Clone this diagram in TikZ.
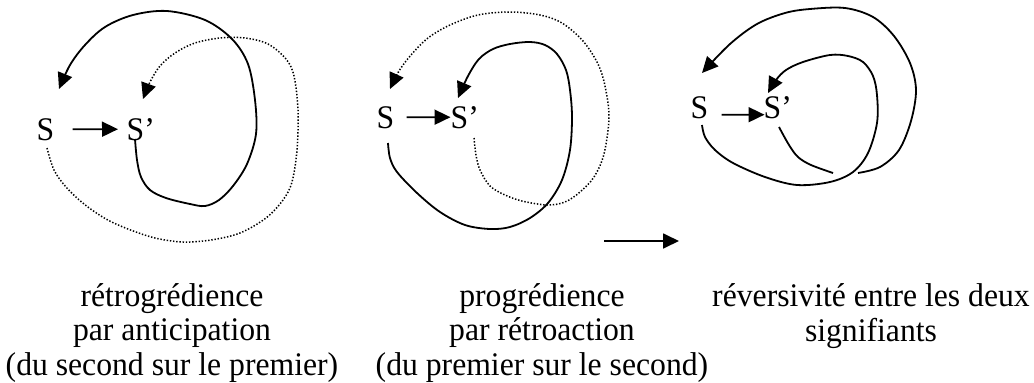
\documentclass[tikz,border=0pt]{standalone}
\usepackage{fontspec}
\setmainfont{Liberation Serif}[FakeStretch=0.96]
\usetikzlibrary{arrows.meta}
\begin{document}
\begin{tikzpicture}[x=1pt,y=-1pt,
  lbl/.style={font=\fontsize{33}{35}\selectfont, inner sep=0pt, anchor=base west},
  caption/.style={font=\fontsize{33}{34.5}\selectfont, align=center, inner sep=0pt, anchor=base},
  solidc/.style={line width=1.8pt, -{Triangle[length=16pt,width=15pt]}},
  dotc/.style={line width=1.5pt, dash pattern=on 1.4pt off 1.8pt, -{Triangle[length=16pt,width=15pt]}},
  plainc/.style={line width=1.8pt},
  arrS/.style={line width=1.8pt, -{Triangle[length=16pt,width=15pt]}},
]
\useasboundingbox (0,0) rectangle (1034,383);

% ---------- panel 1 ----------
\node[lbl] (S1) at (36.5,140) {S};
\node[lbl] (S1p) at (126.5,140) {S’};
\draw[arrS, shorten <=18pt, shorten >=8.5pt] (S1) -- (S1p);
\coordinate (p1a) at (135,139);
\coordinate (p1b) at (59,89);
\draw[solidc] plot[smooth, tension=0.55] coordinates {(p1a) (137,160) (141,177) (150,190) (166,198) (190,204) (205,206) (219,200) (233,186) (247,164) (256,134) (255,100) (248,64) (232,39) (205,20) (167,11) (133,15) (105,27) (85,45) (70,65) (p1b)};
\coordinate (q1a) at (47,148);
\coordinate (q1b) at (143,99);
\draw[dotc] plot[smooth, tension=0.55] coordinates {(q1a) (54,170) (66,187) (84,204) (106,219) (128,229) (155,238) (183,242) (211,240) (240,233) (266,218) (283,200) (292,182) (297,150) (298,110) (294,76) (286,59) (268,44) (245,38) (220,38) (195,43) (175,53) (160,66) (150,82) (q1b)};

% ---------- panel 2 ----------
\node[lbl] (S2) at (376.5,128) {S};
\node[lbl] (S2p) at (450.5,128) {S’};
\draw[arrS, shorten <=12pt] (S2) -- (S2p);
\coordinate (q2a) at (474,138);
\coordinate (q2b) at (390,89);
\draw[dotc] plot[smooth, tension=0.55] coordinates {(q2a) (476,155) (480,170) (490,186) (505,195) (522,201) (547,205) (565,202) (580,192) (594,177) (604,154) (609,117) (605,86) (598,64) (583,41) (562,23) (540,15) (510,12) (478,15) (450,25) (428,38) (411,55) (399,71) (q2b)};
\coordinate (p2a) at (388,143);
\coordinate (p2b) at (458,98);
\draw[solidc] plot[smooth, tension=0.55] coordinates {(p2a) (390,158) (397,172) (417,193) (440,212) (465,225) (490,229) (510,227) (530,218) (548,203) (562,180) (570,150) (572,117) (570,90) (566,70) (557,54) (545,45) (530,42) (510,44) (493,49) (479,59) (468,76) (p2b)};
\coordinate (a0) at (604,241);
\coordinate (a1) at (679,241);
\draw[arrS] (a0) -- (a1);

% ---------- panel 3 ----------
\node[lbl] (S3) at (690.5,118) {S};
\node[lbl] (S3p) at (763.5,118) {S’};
\draw[arrS, shorten <=13pt, shorten >=-1pt] ([yshift=-7.5pt]S3.east) -- ([yshift=-7.5pt]S3p.west);
\coordinate (o3a) at (858,173);
\coordinate (o3b) at (702,73);
\draw[solidc] plot[smooth, tension=0.55] coordinates {(o3a) (880,167) (899,150) (911,121) (916,90) (910,63) (894,36) (873,17) (845,8) (810,9) (785,13) (757,24) (730,44) (o3b)};
\coordinate (i3a) at (702,125);
\coordinate (i3b) at (768,93);
\draw[solidc] plot[smooth, tension=0.55] coordinates {(i3a) (705,137) (715,150) (733,163) (765,177) (797,185) (830,182) (853,172) (868,153) (877,123) (877,95) (873,76) (863,62) (848,56) (830,55) (803,62) (786,70) (776,80) (i3b)};
\coordinate (k3a) at (779,127);
\coordinate (k3b) at (833,173);
\draw[plainc] plot[smooth, tension=0.55] coordinates {(k3a) (789,145) (798,157) (811,165) (k3b)};

% ---------- captions ----------
\node[caption] (c1) at (172,375) {rétrogrédience\\par anticipation\\(du second sur le premier)};
\node[caption] (c2) at (542,375) {progrédience\\par rétroaction\\(du premier sur le second)};
\node[caption] (c3) at (871,341) {réversivité entre les deux\\signifiants};
\end{tikzpicture}
\end{document}
